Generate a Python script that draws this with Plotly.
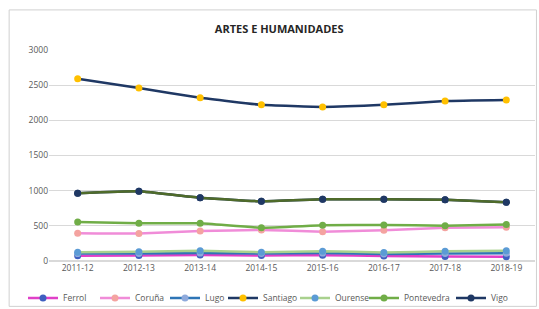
import plotly.graph_objects as go

years = ["2011-12", "2012-13", "2013-14", "2014-15", "2015-16", "2016-17", "2017-18", "2018-19"]
ferrol = [75, 78, 85, 78, 82, 72, 65, 60]
coruna = [396, 392, 427, 441, 417, 437, 474, 479]
lugo = [105, 108, 112, 106, 112, 100, 108, 110]
santiago = [2590, 2460, 2320, 2220, 2190, 2220, 2275, 2290]
ourense = [123, 133, 145, 125, 140, 120, 137, 147]
pontevedra = [555, 536, 536, 472, 507, 512, 502, 520]
vigo = [963, 991, 900, 849, 877, 877, 872, 835]

series = [
    ("Ferrol", ferrol, "#E040C8", "#3F5FC0"),
    ("Coruña", coruna, "#F08CD8", "#F4A3A0"),
    ("Lugo", lugo, "#2E75B6", "#8FAADC"),
    ("Santiago", santiago, "#1F3864", "#FFC000"),
    ("Ourense", ourense, "#A9D18E", "#5B9BD5"),
    ("Pontevedra", pontevedra, "#70AD47", "#70AD47"),
    ("Vigo", vigo, "#1F3864", "#1F3864"),
]
# left edge (px) of each legend entry's text in the reference
legend_text_x = [63, 135, 205, 263, 335, 404, 491]

W, H = 539, 309
fig = go.Figure()
legends = {}
for i, (name, vals, lc, mc) in enumerate(series):
    key = "legend" if i == 0 else f"legend{i + 1}"
    fig.add_trace(go.Scatter(
        x=years, y=vals, name=name, mode="lines+markers", legend=key,
        line=dict(color=lc, width=2.5, shape="spline", smoothing=0.3),
        marker=dict(color=mc, size=7),
    ))
    legends[key] = dict(
        orientation="h", xref="container", yref="container",
        x=(legend_text_x[i] - 40) / W, xanchor="left",
        y=(H - 298) / H, yanchor="middle",
        font=dict(size=8.5, color="#595959"), itemwidth=30,
        bgcolor="rgba(0,0,0,0)",
    )
# olive overlay seen on the Vigo line in the chart body
fig.add_trace(go.Scatter(
    x=years, y=vigo, mode="lines+markers", showlegend=False, hoverinfo="skip",
    line=dict(color="#4F6B2A", width=2.5, shape="spline", smoothing=0.3),
    marker=dict(color="#1F3864", size=7),
))

fig.update_layout(
    width=W, height=H,
    paper_bgcolor="white", plot_bgcolor="white",
    margin=dict(l=49, r=4, t=50, b=48),
    font=dict(family="Open Sans", size=9, color="#595959"),
    title=dict(text="<b>ARTES E HUMANIDADES</b>", x=0.518, xanchor="center",
               y=(H - 29) / H, yanchor="middle", font=dict(size=11, color="#262626")),
    xaxis=dict(type="category", showgrid=False, showline=False, ticks="",
               automargin=False, tickfont=dict(size=8.5, color="#595959")),
    yaxis=dict(range=[0, 3000], dtick=500, showgrid=True, gridcolor="#D9D9D9",
               gridwidth=1, zeroline=True, zerolinecolor="#D9D9D9", showline=False,
               automargin=False, ticks="", tickfont=dict(size=8.5, color="#595959")),
    showlegend=True,
    shapes=[dict(type="rect", xref="paper", yref="paper",
                 x0=-0.082, x1=1.003, y0=-0.215, y1=1.19,
                 line=dict(color="#D0D0D0", width=1))],
    **legends,
)

fig.write_html("out.html", config={"displayModeBar": False},
               post_script="document.body.style.margin='0';")
